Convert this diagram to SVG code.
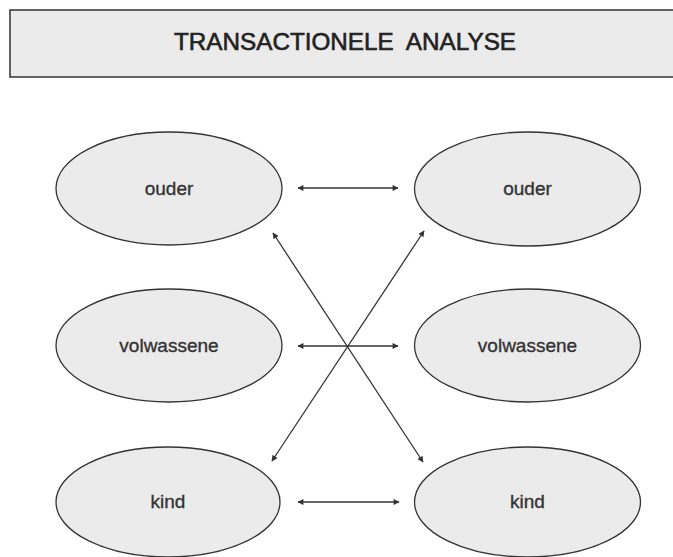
<svg xmlns="http://www.w3.org/2000/svg" width="673" height="557" viewBox="0 0 673 557">
<defs>
<style>
.node ellipse{fill:#ebebeb;stroke:#333;stroke-width:1.3}
.lbl{font-family:"Liberation Sans",Arial,sans-serif;font-size:19px;fill:#333;stroke:#333;stroke-width:0.35;text-anchor:middle}
.title{font-family:"Liberation Sans",Arial,sans-serif;font-size:24px;fill:#222;stroke:#222;stroke-width:0.6;text-anchor:middle}
#connectors line{stroke:#333;stroke-width:1.3;marker-start:url(#ah);marker-end:url(#ah)}
</style>
<marker id="ah" viewBox="0 0 10 10" refX="9" refY="5" markerWidth="7" markerHeight="6" markerUnits="userSpaceOnUse" orient="auto-start-reverse">
<path d="M0,0 L10,5 L0,10 z" fill="#333"/>
</marker>
</defs>
<rect width="673" height="557" fill="#fff"/>
<g id="title">
<rect x="10" y="10" width="675" height="67" fill="#ebebeb" stroke="#333" stroke-width="1.5"/>
<text class="title" x="345" y="50" textLength="342" lengthAdjust="spacingAndGlyphs" xml:space="preserve">TRANSACTIONELE  ANALYSE</text>
</g>
<g id="ouder-l" class="node"><ellipse cx="169" cy="188.5" rx="113" ry="56.5"/><text class="lbl" x="169" y="195">ouder</text></g>
<g id="volw-l" class="node"><ellipse cx="169" cy="345.5" rx="113" ry="56.5"/><text class="lbl" x="169" y="352">volwassene</text></g>
<g id="kind-l" class="node"><ellipse cx="168" cy="502" rx="112" ry="55"/><text class="lbl" x="168" y="508">kind</text></g>
<g id="ouder-r" class="node"><ellipse cx="527.5" cy="189" rx="113" ry="57"/><text class="lbl" x="527.5" y="195">ouder</text></g>
<g id="volw-r" class="node"><ellipse cx="527.5" cy="345.5" rx="113" ry="56.5"/><text class="lbl" x="527.5" y="352">volwassene</text></g>
<g id="kind-r" class="node"><ellipse cx="527.5" cy="502" rx="113" ry="55"/><text class="lbl" x="527.5" y="508">kind</text></g>
<g id="connectors">
<line x1="298" y1="188" x2="398" y2="188"/>
<line x1="298" y1="346" x2="398" y2="346"/>
<line x1="298" y1="502" x2="399" y2="502"/>
<line x1="273" y1="233" x2="423" y2="462"/>
<line x1="424" y1="231" x2="272" y2="461"/>
</g>
</svg>
